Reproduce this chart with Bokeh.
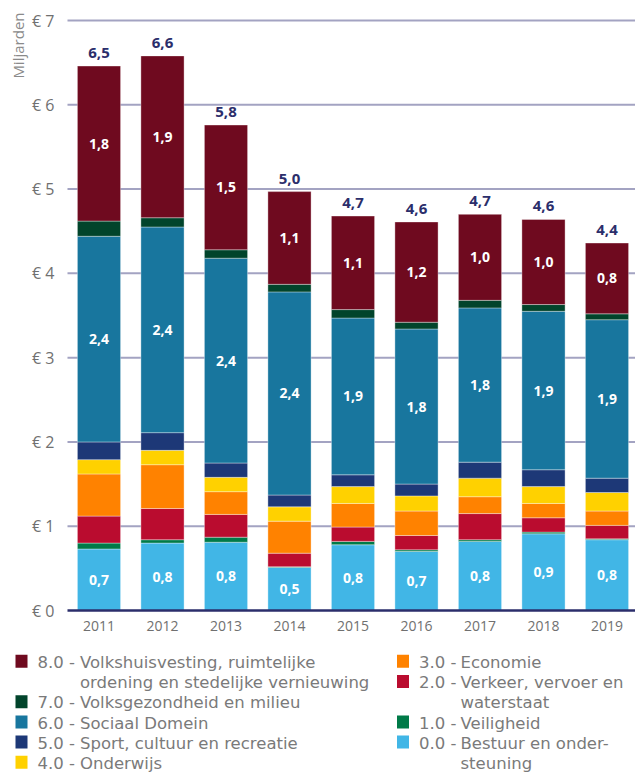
from bokeh.plotting import figure
from bokeh.models import ColumnDataSource, Range1d, FixedTicker
from bokeh.layouts import column
from bokeh.core.properties import value
from bokeh.embed import file_html
from bokeh.resources import INLINE
import math

years = ["2011", "2012", "2013", "2014", "2015", "2016", "2017", "2018", "2019"]

# values in miljarden euro, per beleidsterrein
s0 = [0.73, 0.80, 0.81, 0.51, 0.78, 0.70, 0.82, 0.91, 0.84]   # 0.0 Bestuur en ondersteuning
s1 = [0.07, 0.04, 0.06, 0.01, 0.04, 0.02, 0.02, 0.02, 0.01]   # 1.0 Veiligheid
s2 = [0.32, 0.37, 0.27, 0.16, 0.17, 0.17, 0.31, 0.17, 0.16]   # 2.0 Verkeer
s3 = [0.50, 0.52, 0.27, 0.38, 0.28, 0.29, 0.20, 0.17, 0.17]   # 3.0 Economie
s4 = [0.17, 0.17, 0.17, 0.17, 0.20, 0.18, 0.22, 0.20, 0.22]   # 4.0 Onderwijs
s5 = [0.21, 0.21, 0.17, 0.14, 0.14, 0.14, 0.19, 0.20, 0.17]   # 5.0 Sport
s6 = [2.44, 2.44, 2.43, 2.41, 1.86, 1.84, 1.83, 1.88, 1.88]   # 6.0 Sociaal Domein
s7 = [0.18, 0.11, 0.10, 0.09, 0.10, 0.08, 0.09, 0.08, 0.07]   # 7.0 Volksgezondheid
s8 = [1.84, 1.92, 1.48, 1.10, 1.11, 1.19, 1.02, 1.01, 0.84]   # 8.0 Volkshuisvesting

series_keys = ["s0", "s1", "s2", "s3", "s4", "s5", "s6", "s7", "s8"]
series_vals = [s0, s1, s2, s3, s4, s5, s6, s7, s8]
colors = ["#41b6e6", "#007a48", "#ba0c2f", "#ff8200", "#ffd100",
          "#1d3877", "#18769e", "#01442b", "#6f0a1f"]
legend_prefix = ["0.0 - ", "1.0 - ", "2.0 - ", "3.0 - ", "4.0 - ",
                 "5.0 - ", "6.0 - ", "7.0 - ", "8.0 - "]
legend_lines = [["Bestuur en onder-", "steuning"],
                ["Veiligheid"],
                ["Verkeer, vervoer en", "waterstaat"],
                ["Economie"],
                ["Onderwijs"],
                ["Sport, cultuur en recreatie"],
                ["Sociaal Domein"],
                ["Volksgezondheid en milieu"],
                ["Volkshuisvesting, ruimtelijke", "ordening en stedelijke vernieuwing"]]
left_col = [8, 7, 6, 5, 4]
right_col = [3, 2, 1, 0]
y_ticks = [0, 1, 2, 3, 4, 5, 6, 7]
labelled = [0, 6, 8]
unit_label = "Miljarden"

def fmt(v):
    return f"{v:.1f}".replace(".", ",")

xs = list(range(len(years)))
data = {"x": xs}
for k, v in zip(series_keys, series_vals):
    data[k] = v
src = ColumnDataSource(data)

FONT = "Open Sans"
LFONT = "DejaVu Sans"
GREY = "#707070"
NAVY = "#2b2e6b"

X0, X1 = -1.551, 8.449      # frame spans the full width
GRID_X0 = -0.496            # left edge of plotting area (gridlines start)
Y0, Y1 = -0.083, 7.2373

p = figure(width=635, height=640, output_backend="svg", toolbar_location=None,
           x_range=Range1d(X0, X1), y_range=Range1d(Y0, Y1),
           min_border_left=0, min_border_right=0, min_border_top=0,
           min_border_bottom=23)
p.outline_line_color = None
p.background_fill_color = "white"
p.grid.visible = False
p.yaxis.visible = False

# horizontal gridlines
p.segment(x0=[GRID_X0] * (len(y_ticks) - 1), x1=[X1] * (len(y_ticks) - 1),
          y0=y_ticks[1:], y1=y_ticks[1:], line_color="#a3a3c2", line_width=2)

p.vbar_stack(series_keys, x="x", width=0.68, source=src, fill_color=colors,
             line_color="white", line_alpha=0.45, line_width=0.8)

# baseline
p.segment(x0=[GRID_X0], x1=[X1], y0=[0], y1=[0], line_color=NAVY, line_width=2.5)

# y tick labels
p.text(x=[GRID_X0] * len(y_ticks), y=y_ticks, text=[f"€ {t}" for t in y_ticks],
       x_offset=-13, text_align="right", text_baseline="middle",
       text_font=value(FONT), text_font_size="16px", text_color=GREY)

# unit label
p.text(x=[GRID_X0], y=[y_ticks[-1]], text=[unit_label], x_offset=-49, y_offset=-8,
       angle=math.pi / 2, text_align="right", text_baseline="middle",
       text_font=value(FONT), text_font_size="15px", text_color="#8a8a8a")

# segment labels
for i in labelled:
    vals = series_vals[i]
    mids, txt = [], []
    for j in xs:
        base = sum(series_vals[k][j] for k in range(i))
        mids.append(base + vals[j] / 2)
        txt.append(fmt(vals[j]))
    p.text(x=xs, y=mids, text=txt, text_align="center", text_baseline="middle",
           text_color="white", text_font=value(FONT), text_font_style="bold",
           text_font_size="14px")

totals = [sum(series_vals[k][j] for k in range(len(series_vals))) for j in xs]
p.text(x=xs, y=totals, text=[fmt(t) for t in totals], text_align="center",
       text_baseline="middle", y_offset=-13, text_color=NAVY,
       text_font=value(FONT), text_font_style="bold", text_font_size="15px")

# x axis
p.xaxis.ticker = FixedTicker(ticks=xs)
p.xaxis.major_label_overrides = {j: y for j, y in zip(xs, years)}
p.xaxis.axis_line_color = None
p.xaxis.major_tick_line_color = None
p.xaxis.minor_tick_line_color = None
p.xaxis.major_tick_out = 0
p.xaxis.major_label_standoff = 3
p.xaxis.major_label_text_font = FONT
p.xaxis.major_label_text_font_size = "14px"
p.xaxis.major_label_text_color = GREY

# legend figure
lg = figure(width=635, height=133, output_backend="svg", toolbar_location=None,
            x_range=Range1d(0, 635), y_range=Range1d(133, 0),
            min_border=0, min_border_left=0, min_border_right=0,
            min_border_top=0, min_border_bottom=0)
lg.outline_line_color = None
lg.xaxis.visible = False
lg.yaxis.visible = False
lg.grid.visible = False

row0, row_h = 22.0, 20.2
for col_items, x_sq, x_txt, x_name in [(left_col, 21, 37, 79.5), (right_col, 402.5, 418.5, 460)]:
    r = 0
    sx_, sy_, sc_ = [], [], []
    px_, py_, pt_ = [], [], []
    nx_, ny_, nt_ = [], [], []
    for i in col_items:
        sx_.append(x_sq); sy_.append(row0 + r * row_h - 1.2); sc_.append(colors[i])
        px_.append(x_txt); py_.append(row0 + r * row_h); pt_.append(legend_prefix[i])
        for line in legend_lines[i]:
            nx_.append(x_name); ny_.append(row0 + r * row_h); nt_.append(line)
            r += 1
    lg.rect(x=sx_, y=sy_, width=12, height=13, fill_color=sc_, line_color=None)
    lg.text(x=px_, y=py_, text=pt_, text_align="left", text_baseline="middle",
            text_font=value(LFONT), text_font_size="16.5px", text_color="#7a7a7a")
    lg.text(x=nx_, y=ny_, text=nt_, text_align="left", text_baseline="middle",
            text_font=value(LFONT), text_font_size="16.5px", text_color="#7a7a7a")

layout = column(p, lg, spacing=0)
open("out.html", "w").write(file_html(layout, INLINE))
